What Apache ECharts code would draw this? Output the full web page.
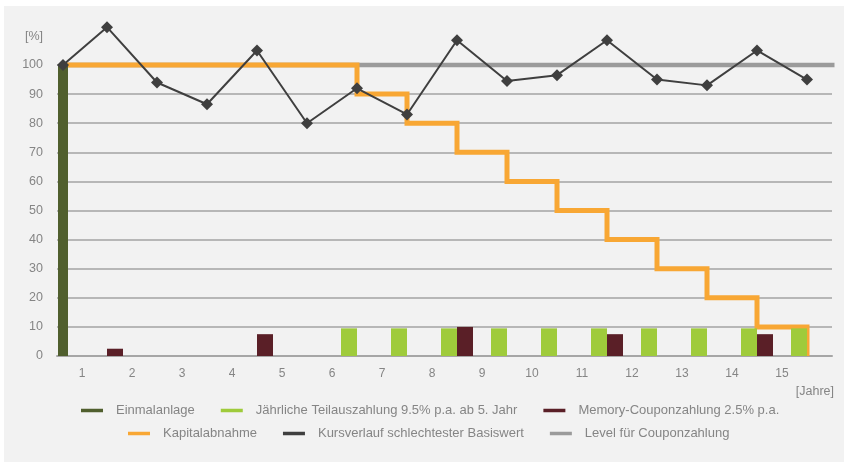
<!DOCTYPE html>
<html>
<head>
<meta charset="utf-8">
<script src="https://cdn.jsdelivr.net/npm/echarts@6/dist/echarts.min.js"></script>
<style>
html,body{margin:0;padding:0;background:#ffffff;}
#wrap{position:absolute;left:4px;top:6px;width:840px;height:456px;background:#f2f2f2;}
#chart{position:absolute;left:0;top:0;width:844px;height:462px;}
</style>
</head>
<body>
<div id="wrap"></div>
<div id="chart"></div>
<script>
// ---- data ----
const xLabels = ['1','2','3','4','5','6','7','8','9','10','11','12','13','14','15'];
const obsTimes = [0.12, 1, 2, 3, 4, 5, 6, 7, 8, 9, 10, 11, 12, 13, 14, 15];
const kursverlauf = [100, 113, 94, 86.5, 105, 80, 92, 83, 108.5, 94.5, 96.5, 108.5, 95, 93, 105, 95];
const kapitalabnahme = [100, 100, 100, 100, 100, 100, 90, 80, 70, 60, 50, 40, 30, 20, 10, 0];
const einmalTimes = [0.12];
const einmalanlage = [100];
const teilTimes = [6, 7, 8, 9, 10, 11, 12, 13, 14, 15];
const teilauszahlung = [9.5, 9.5, 9.5, 9.5, 9.5, 9.5, 9.5, 9.5, 9.5, 9.5];
const memoryTimes = [1, 4, 8, 11, 14];
const memoryCoupon = [2.5, 7.5, 10, 7.5, 7.5];
const levelTimes = [0.12, 15.55];
const levelValues = [100, 100];
const yTicks = [0, 10, 20, 30, 40, 50, 60, 70, 80, 90, 100];

const zip = (xs, ys) => xs.map((x, i) => [x, ys[i]]);

const chart = echarts.init(document.getElementById('chart'), null, {renderer: 'canvas'});
const txt = '#858585';
const font = 'Liberation Sans, Arial, sans-serif';

const legendCommon = {
  orient: 'horizontal', padding: 0, itemGap: 26, itemWidth: 22, itemHeight: 3.5,
  icon: 'rect',
  textStyle: {color: txt, fontSize: 13, fontFamily: font, padding: [0, 0, 0, 8]}
};

chart.setOption({
  animation: false,
  backgroundColor: 'transparent',
  legend: [
    Object.assign({}, legendCommon, {left: 81, top: 404,
      data: ['Einmalanlage', 'Jährliche Teilauszahlung 9.5% p.a. ab 5. Jahr', 'Memory-Couponzahlung 2.5% p.a.']}),
    Object.assign({}, legendCommon, {left: 128, top: 427,
      data: ['Kapitalabnahme', 'Kursverlauf schlechtester Basiswert', 'Level für Couponzahlung']})
  ],
  grid: {left: 57, right: 12, top: 65, bottom: 106, containLabel: false},
  xAxis: [{
    type: 'value', min: 0, max: 15.5,
    name: '[Jahre]', nameLocation: 'end', nameGap: 2,
    nameTextStyle: {color: txt, fontSize: 12.5, fontFamily: font, align: 'right', verticalAlign: 'top', padding: [29, 0, 0, 0]},
    axisLine: {show: true, lineStyle: {color: '#a6a6a6', width: 2}},
    axisTick: {show: false},
    splitLine: {show: false},
    axisLabel: {
      color: txt, fontSize: 12, fontFamily: font, margin: 12,
      customValues: xLabels.map((_, i) => i + 0.5),
      formatter: v => xLabels[Math.round(v - 0.5)]
    }
  }, {
    type: 'value', min: 0, max: 15.5, show: false
  }],
  yAxis: {
    type: 'value', min: 0, max: 100, interval: 10,
    name: '[%]', nameLocation: 'end', nameGap: 22,
    nameTextStyle: {color: txt, fontSize: 12.5, fontFamily: font, align: 'right', padding: [0, 14, 0, 0]},
    axisLine: {show: false}, axisTick: {show: false},
    axisLabel: {color: txt, fontSize: 12.5, fontFamily: font, margin: 14,
      customValues: yTicks},
    splitLine: {show: true, lineStyle: {color: '#a3a3a3', width: 1.6}}
  },
  series: [
    {
      name: 'Level für Couponzahlung', type: 'line', z: 2, clip: false,
      data: zip(levelTimes, levelValues), symbol: 'none',
      lineStyle: {color: '#9b9b9b', width: 4.5}, itemStyle: {color: '#9b9b9b'}
    },
    {
      name: 'Kapitalabnahme', type: 'line', z: 3, step: 'end', clip: false,
      data: zip(obsTimes, kapitalabnahme), symbol: 'none',
      lineStyle: {color: '#f8a734', width: 5, join: 'miter'}, itemStyle: {color: '#f8a734'}
    },
    {
      name: 'Jährliche Teilauszahlung 9.5% p.a. ab 5. Jahr', type: 'bar', z: 4, xAxisIndex: 0,
      data: zip(teilTimes, teilauszahlung), barWidth: 16, barGap: '0%',
      itemStyle: {color: '#9fcb3b'}
    },
    {
      name: 'Memory-Couponzahlung 2.5% p.a.', type: 'bar', z: 4, xAxisIndex: 0,
      data: zip(memoryTimes, memoryCoupon), barWidth: 16, barGap: '0%',
      itemStyle: {color: '#5a1f27'}
    },
    {
      name: 'Einmalanlage', type: 'bar', z: 4, xAxisIndex: 1,
      data: zip(einmalTimes, einmalanlage), barWidth: 10,
      itemStyle: {color: '#505f2e'}
    },
    {
      name: 'Kursverlauf schlechtester Basiswert', type: 'line', z: 6, clip: false,
      data: zip(obsTimes, kursverlauf), symbol: 'diamond', symbolSize: [12, 12],
      lineStyle: {color: '#3f3f3f', width: 2}, itemStyle: {color: '#3f3f3f'}
    }
  ]
});
</script>
</body>
</html>
